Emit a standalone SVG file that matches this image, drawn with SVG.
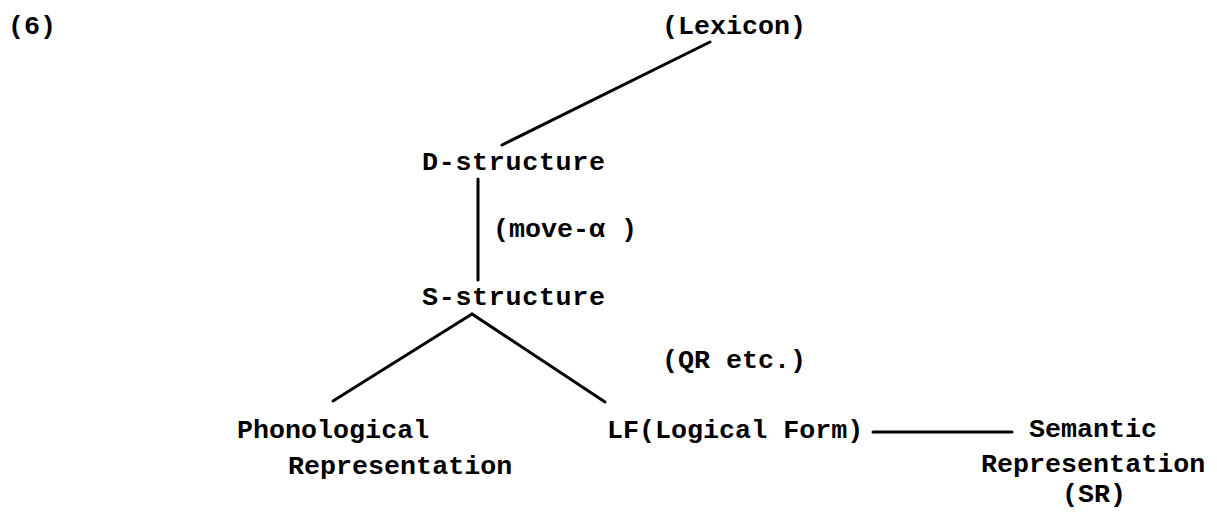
<svg xmlns="http://www.w3.org/2000/svg" width="1217" height="512" viewBox="0 0 1217 512">
<style>
text{font-family:"Liberation Mono","Courier New",monospace;font-weight:bold;font-size:26.7px;fill:#000}
.c line{stroke:#000;stroke-width:3;stroke-linecap:round}
</style>
<rect width="1217" height="512" fill="#fff"/>
<g id="label6"><text x="8" y="34">(6)</text></g>
<g id="lexicon"><text x="662" y="34">(Lexicon)</text></g>
<g id="dstructure"><text x="422" y="170" textLength="183" lengthAdjust="spacing">D-structure</text></g>
<g id="move"><text x="493" y="237">(move-α )</text></g>
<g id="sstructure"><text x="422" y="305" textLength="183" lengthAdjust="spacing">S-structure</text></g>
<g id="qr"><text x="662" y="368">(QR etc.)</text></g>
<g id="phon"><text x="237" y="438">Phonological</text><text x="288" y="474">Representation</text></g>
<g id="lf"><text x="607" y="438">LF(Logical Form)</text></g>
<g id="sem"><text x="1029" y="437">Semantic</text><text x="981" y="472">Representation</text><text x="1062" y="502">(SR)</text></g>
<g class="c" id="connectors">
<line x1="710" y1="42" x2="502" y2="145"/>
<line x1="478" y1="179" x2="478" y2="280"/>
<line x1="472" y1="314" x2="333" y2="401"/>
<line x1="472" y1="314" x2="605" y2="402"/>
<line x1="873" y1="432" x2="1012" y2="432" stroke-width="3.5"/>
</g>
</svg>
